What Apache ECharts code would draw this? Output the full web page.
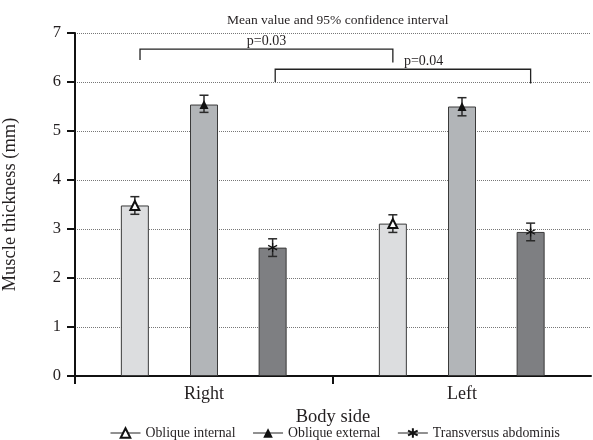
<!DOCTYPE html>
<html>
<head>
<meta charset="utf-8">
<script src="https://cdn.jsdelivr.net/npm/echarts@6/dist/echarts.min.js"></script>
<style>html,body{margin:0;padding:0;background:#fff}#c{width:593px;height:440px}</style>
</head>
<body>
<div id="c"></div>
<script>
// ---- data ----
const categories = ['Right', 'Left'];
const muscles = ['Oblique internal', 'Oblique external', 'Transversus abdominis'];
const meanOI = [3.48, 3.11];
const meanOE = [5.54, 5.50];
const meanTA = [2.62, 2.94];
const lowOI = [3.30, 2.93];
const highOI = [3.66, 3.29];
const lowOE = [5.38, 5.31];
const highOE = [5.73, 5.68];
const lowTA = [2.44, 2.76];
const highTA = [2.80, 3.12];
const yTicks = [0, 1, 2, 3, 4, 5, 6, 7];
const pLabels = ['p=0.03', 'p=0.04'];
// comparisons: [fromCategory, fromMuscle, toCategory, toMuscle]
const compPairs = [[0, 0, 1, 0], [0, 2, 1, 2]];
const compLevel = [6.67, 6.26];
const compLegEnds = [[6.45, 6.40], [6.0, 5.97]];

// ---- layout ----
const FONT = 'Liberation Serif';
const TXT = '#231f20';
const offsets = [-0.268, 0, 0.266];
const barColors = ['#dcdddf', '#b2b5b8', '#7e7f82'];
const means = [meanOI, meanOE, meanTA];
const lows = [lowOI, lowOE, lowTA];
const highs = [highOI, highOE, highTA];
const pos = (c, m) => c + 0.5 + offsets[m];

const barData = [];
const errData = [];
for (let c = 0; c < categories.length; c++) {
  for (let m = 0; m < muscles.length; m++) {
    barData.push({ value: [pos(c, m), means[m][c]], itemStyle: { color: barColors[m] } });
    errData.push([pos(c, m), lows[m][c], highs[m][c]]);
  }
}
const compData = compPairs.map((p, i) => [pos(p[0], p[1]) + (i === 0 ? 0.02 : 0.01), pos(p[2], p[3]), compLevel[i], compLegEnds[i][0], compLegEnds[i][1], i]);

const asterisk = 'path://M5,0 L5,10 M0.7,2.5 L9.3,7.5 M0.7,7.5 L9.3,2.5';
const symbols = ['emptyTriangle', 'triangle', asterisk];

const markerSeries = muscles.map((name, m) => ({
  type: 'line',
  name: name,
  data: categories.map((_, c) => [pos(c, m), means[m][c]]),
  symbol: symbols[m],
  symbolSize: 9,
  lineStyle: { opacity: 0, width: 0 },
  itemStyle: m === 2 ? { color: '#111', borderColor: '#111', borderWidth: 1.2 } : { color: '#111', borderWidth: 1 },
  z: 5,
  silent: true,
  animation: false
}));

const chart = echarts.init(document.getElementById('c'), null, { renderer: 'canvas' });
chart.setOption({
  animation: false,
  backgroundColor: '#fff',
  textStyle: { fontFamily: FONT, color: TXT },
  title: {
    text: 'Mean value and 95% confidence interval',
    left: 222, top: 8,
    textStyle: { fontFamily: FONT, fontSize: 13.5, fontWeight: 'normal', color: TXT }
  },
  grid: { left: 75, right: 2, top: 33, bottom: 64, outerBoundsMode: 'none' },
  legend: {
    data: muscles,
    left: 105, top: 421,
    itemWidth: 30, itemHeight: 12, itemGap: 17,
    textStyle: { fontFamily: FONT, fontSize: 13.8, fontWeight: 'normal', color: TXT },
    lineStyle: { width: 1, color: '#222', opacity: 1 }
  },
  xAxis: {
    type: 'value',
    min: 0, max: categories.length,
    name: 'Body side',
    nameLocation: 'middle',
    nameGap: 25,
    nameTextStyle: { fontFamily: FONT, fontSize: 18.5, fontWeight: 'normal', color: TXT },
    axisLine: { show: true, lineStyle: { color: '#111', width: 2 } },
    axisTick: { show: true, length: 8, lineStyle: { color: '#111', width: 2 },
      customValues: categories.map((_, i) => i) },
    axisLabel: { fontFamily: FONT, fontSize: 18, fontWeight: 'normal', color: TXT, margin: 9,
      customValues: categories.map((_, i) => i + 0.5),
      formatter: (v) => categories[Math.floor(v)] },
    splitLine: { show: false }
  },
  yAxis: {
    type: 'value',
    min: yTicks[0], max: yTicks[yTicks.length - 1], interval: 1,
    name: 'Muscle thickness (mm)',
    nameLocation: 'middle',
    nameGap: 55,
    nameTextStyle: { fontFamily: FONT, fontSize: 18.5, fontWeight: 'normal', color: TXT },
    axisLine: { show: true, lineStyle: { color: '#111', width: 2 } },
    axisTick: { show: true, length: 8, lineStyle: { color: '#111', width: 2 } },
    axisLabel: { fontFamily: FONT, fontSize: 16.5, fontWeight: 'normal', color: TXT, margin: 14 },
    splitLine: { lineStyle: { color: '#777', type: [1, 1], width: 1 } }
  },
  series: [
    {
      type: 'bar',
      name: 'bars',
      barWidth: 28,
      data: barData,
      itemStyle: { borderColor: '#3a3a3a', borderWidth: 1 },
      z: 2,
      silent: true
    },
    {
      type: 'custom',
      name: 'ci',
      data: errData,
      encode: { x: 0, y: [1, 2] },
      z: 4,
      silent: true,
      renderItem: function (params, api) {
        const x = api.value(0);
        const lo = api.coord([x, api.value(1)]);
        const hi = api.coord([x, api.value(2)]);
        const w = 4.5;
        const st = { stroke: '#2a2a2a', lineWidth: 1.5 };
        return {
          type: 'group',
          children: [
            { type: 'line', shape: { x1: lo[0], y1: lo[1], x2: hi[0], y2: hi[1] }, style: st },
            { type: 'line', shape: { x1: lo[0] - w, y1: lo[1], x2: lo[0] + w, y2: lo[1] }, style: st },
            { type: 'line', shape: { x1: hi[0] - w, y1: hi[1], x2: hi[0] + w, y2: hi[1] }, style: st }
          ]
        };
      }
    },
    {
      type: 'custom',
      name: 'brackets',
      data: compData,
      encode: { x: [0, 1], y: 2 },
      z: 4,
      silent: true,
      clip: false,
      renderItem: function (params, api) {
        const x1 = api.value(0), x2 = api.value(1), yt = api.value(2);
        const a = api.coord([x1, api.value(3)]);
        const b = api.coord([x1, yt]);
        const c = api.coord([x2, yt]);
        const d = api.coord([x2, api.value(4)]);
        const i = api.value(5);
        const mid = (b[0] + c[0]) / 2;
        return {
          type: 'group',
          children: [
            { type: 'polyline', shape: { points: [a, b, c, d] }, style: { stroke: '#222', lineWidth: 1.3, fill: null } },
            {
              type: 'text',
              style: {
                text: pLabels[i], x: i === 0 ? mid : mid + 1, y: b[1] - 1,
                textAlign: i === 0 ? 'center' : 'left', textVerticalAlign: 'bottom',
                font: '14px "' + FONT + '"', fill: TXT
              }
            }
          ]
        };
      }
    }
  ].concat(markerSeries)
});
</script>
</body>
</html>
